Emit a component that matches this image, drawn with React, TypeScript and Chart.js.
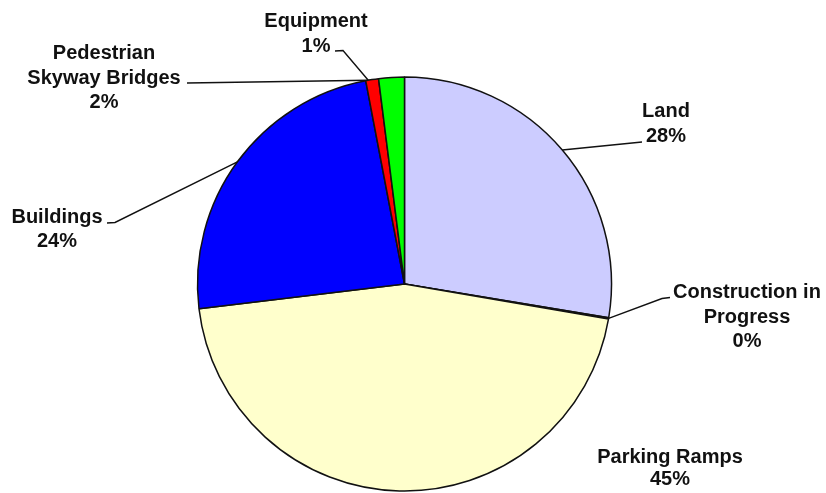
import React, { useEffect, useRef } from "react";
import { Chart, registerables } from "chart.js";

Chart.register(...registerables);

const categories = [
  "Land",
  "Construction in Progress",
  "Parking Ramps",
  "Buildings",
  "Equipment",
  "Pedestrian Skyway Bridges",
];
const values = [27.6, 0.1, 45.4, 23.9, 1.0, 2.0];
const colors = ["#CCCCFF", "#663366", "#FFFFCC", "#0000FF", "#FF0000", "#00FF00"];

// label text lines (category name split into lines), percent added from data
const labelLines = [
  ["Land"],
  ["Construction in", "Progress"],
  ["Parking Ramps"],
  ["Buildings"],
  ["Equipment"],
  ["Pedestrian", "Skyway Bridges"],
];

// annotation layout: text centre x, baselines, leader anchor fraction along arc, leader elbow points
const labelLayout = [
  { x: 666, baselines: [117, 142], t: 0.5, path: [[642, 142]] },
  { x: 747, baselines: [298, 323, 347], t: 0.5, path: [[662, 298.5], [670, 297.5]] },
  { x: 670, baselines: [463, 485], t: 0.5, path: null },
  { x: 57, baselines: [223, 247], t: 0.5, path: [[115, 222.5], [107, 223]] },
  { x: 316, baselines: [27, 52], t: 0.2, path: [[343, 50.5], [335, 51]] },
  { x: 104, baselines: [59, 83.5, 108], t: -0.4, path: [[187, 83]] },
];

const labelPlugin = {
  id: "pieLabels",
  afterDraw(chart: any) {
    const ctx = chart.ctx;
    const meta = chart.getDatasetMeta(0);
    const data = chart.data.datasets[0].data as number[];
    const total = data.reduce((a: number, b: number) => a + b, 0);
    ctx.save();
    meta.data.forEach((arc: any, i: number) => {
      const lay = labelLayout[i];
      const { x, y, startAngle, endAngle, outerRadius } = arc.getProps(
        ["x", "y", "startAngle", "endAngle", "outerRadius"],
        true
      );
      if (lay.path) {
        const a = startAngle + lay.t * (endAngle - startAngle);
        const ax = x + Math.cos(a) * outerRadius;
        const ay = y + Math.sin(a) * outerRadius;
        ctx.beginPath();
        ctx.moveTo(ax, ay);
        lay.path.forEach((p: number[]) => ctx.lineTo(p[0], p[1]));
        ctx.strokeStyle = "#111";
        ctx.lineWidth = 1.4;
        ctx.stroke();
      }
      const pct = Math.round((data[i] / total) * 100) + "%";
      const lines = [...labelLines[i], pct];
      ctx.fillStyle = "#111";
      ctx.font = "bold 20px 'Liberation Sans', Arial, sans-serif";
      ctx.textAlign = "center";
      ctx.textBaseline = "alphabetic";
      lines.forEach((ln, k) => {
        ctx.fillText(ln, lay.x, lay.baselines[k]);
      });
    });
    ctx.restore();
  },
};

export default function App() {
  const ref = useRef<HTMLCanvasElement>(null);
  useEffect(() => {
    document.body.style.margin = "0";
    const chart = new Chart(ref.current!, {
      type: "pie",
      data: {
        labels: categories,
        datasets: [
          {
            data: values,
            backgroundColor: colors,
            borderColor: "#111",
            borderWidth: 1.5,
          },
        ],
      },
      options: {
        responsive: false,
        animation: false,
        radius: 207,
        layout: { padding: { left: 197, right: 214, top: 77, bottom: 2 } },
        plugins: {
          legend: { display: false },
          tooltip: { enabled: false },
        },
      } as any,
      plugins: [labelPlugin],
    });
    return () => chart.destroy();
  }, []);
  return (
    <div style={{ width: 826, height: 493, background: "#fff" }}>
      <canvas ref={ref} width={826} height={493} style={{ display: "block" }} />
    </div>
  );
}
